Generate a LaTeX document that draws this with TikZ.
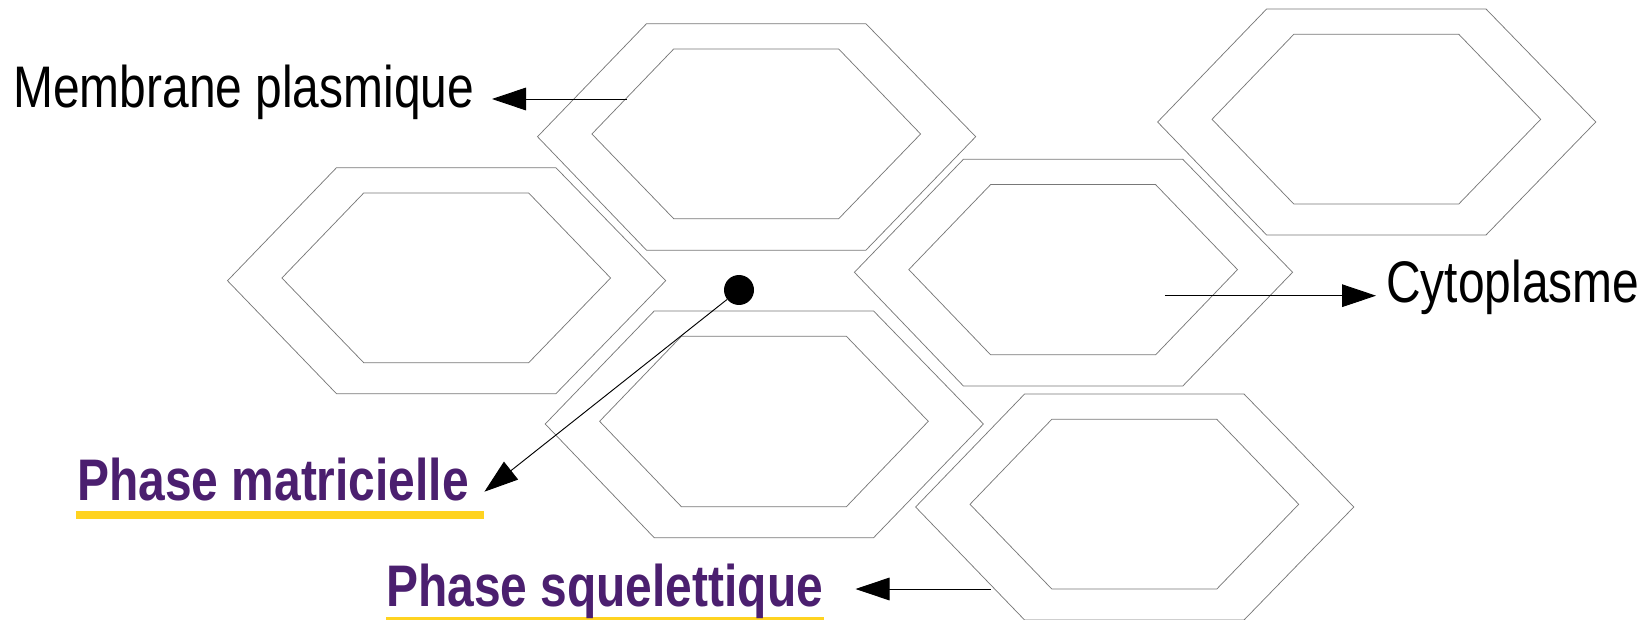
\documentclass[tikz,border=0pt]{standalone}
\usepackage{xcolor}
\usepackage{fontspec}
\usepackage{tikz}
\usetikzlibrary{arrows.meta}
\newfontfamily\calloutfont[FakeStretch=0.817]{Liberation Sans}
\definecolor{phaseviolet}{RGB}{75,31,111}
\definecolor{phaseyellow}{RGB}{255,211,32}
\tikzset{
  cellline/.style={draw={rgb,255:red,120;green,120;blue,120},line width=0.55pt,line join=miter},
  pointer/.style={draw=black,line width=0.7pt,-{Triangle[length=25.5pt,width=17pt]}},
  blacklabel/.style={anchor=base west,inner sep=0pt,font=\calloutfont\fontsize{44}{44}\selectfont},
  phaselabel/.style={blacklabel,text=phaseviolet,font=\calloutfont\bfseries\fontsize{44}{44}\selectfont},
  phaserule/.style={fill=phaseyellow}
}

\begin{document}
\begin{tikzpicture}[x=0.75pt,y=0.75pt,yscale=-1,xscale=1]
\useasboundingbox (0,0) rectangle (1649,620);

%Shape: top cell
\draw [cellline] (537.5,136.7) -- (646.5,23.7) -- (865.9,23.7) -- (975.7,136.7) -- (865.9,250.2) -- (646.5,250.2) -- cycle ;
\draw [cellline] (591.9,134) -- (673.7,49) -- (838.7,49) -- (920.6,134) -- (838.7,218.7) -- (673.7,218.7) -- cycle ;
%Shape: left cell
\draw [cellline] (227.5,280.7) -- (336.5,167.7) -- (555.9,167.7) -- (665.7,280.7) -- (555.9,393.7) -- (336.5,393.7) -- cycle ;
\draw [cellline] (281.9,278) -- (363.7,193) -- (528.7,193) -- (610.6,278) -- (528.7,362.7) -- (363.7,362.7) -- cycle ;
%Shape: top right cell
\draw [cellline] (1157.6,122) -- (1266.6,9) -- (1486,9) -- (1595.8,122) -- (1486,235) -- (1266.6,235) -- cycle ;
\draw [cellline] (1212,119.3) -- (1293.8,34.3) -- (1458.8,34.3) -- (1540.7,119.3) -- (1458.8,204) -- (1293.8,204) -- cycle ;
%Shape: middle right cell
\draw [cellline] (854.4,272.3) -- (963.4,159.3) -- (1182.8,159.3) -- (1292.6,272.3) -- (1182.8,386) -- (963.4,386) -- cycle ;
\draw [cellline] (908.8,269.6) -- (990.6,184.6) -- (1155.6,184.6) -- (1237.5,269.6) -- (1155.6,354.8) -- (990.6,354.8) -- cycle ;
%Shape: lower middle cell
\draw [cellline] (545.2,424) -- (654.2,311) -- (873.6,311) -- (983.4,424) -- (873.6,537.7) -- (654.2,537.7) -- cycle ;
\draw [cellline] (599.6,421.3) -- (681.4,336.3) -- (846.4,336.3) -- (928.3,421.3) -- (846.4,506.7) -- (681.4,506.7) -- cycle ;
%Shape: bottom cell
\draw [cellline] (915.6,507) -- (1024.6,394) -- (1244,394) -- (1353.8,507) -- (1244,620) -- (1024.6,620) -- cycle ;
\draw [cellline] (970,504.3) -- (1051.8,419.3) -- (1216.8,419.3) -- (1298.7,504.3) -- (1216.8,589) -- (1051.8,589) -- cycle ;

%Shape: yellow rules
\fill [phaserule] (75.8,510.7) rectangle (484,518.7) ;
\fill [phaserule] (385.9,617) rectangle (823.5,625) ;

% Text Node
\node (membrane) at (13,107.3) [blacklabel] {Membrane plasmique};
% Text Node
\node (cytoplasme) at (1386,303) [blacklabel] {Cytoplasme};
% Text Node
\node (matricielle) at (77,500.7) [phaselabel] {Phase matricielle};
% Text Node
\node (squelettique) at (386,606.7) [phaselabel] {Phase squelettique};
% Dot in the matrix
\node (matrixdot) at (739,290) [circle,fill=black,inner sep=0pt,minimum size=22.5pt] {};

% Arrow ends
\coordinate (membranetail) at (627,99);
\coordinate (membranetip) at (492,99);
\coordinate (cytotail) at (1164.8,295.7);
\coordinate (cytotip) at (1376,295.7);
\coordinate (matrixtip) at (484.4,491.7);
\coordinate (squelettail) at (990.6,589);
\coordinate (squeletip) at (855.5,589);

%Straight Lines
\draw [pointer] (membranetail) -- (membranetip) ;
\draw [pointer] (cytotail) -- (cytotip) ;
\draw [pointer] (matrixdot) -- (matrixtip) ;
\draw [pointer] (squelettail) -- (squeletip) ;

\end{tikzpicture}
\end{document}
